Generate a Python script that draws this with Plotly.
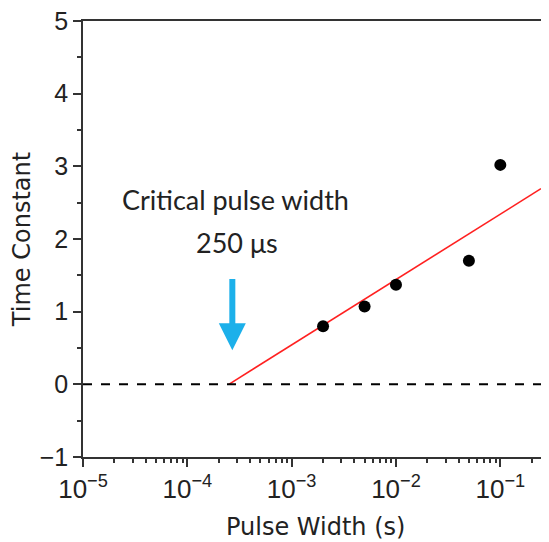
import numpy as np
import plotly.graph_objects as go

# Data
pulse_width = [2e-3, 5e-3, 1e-2, 5e-2, 1e-1]
time_constant = [0.80, 1.07, 1.37, 1.70, 3.02]

# Fit line: y = slope * (log10(x) - log10(x0))
fit_x0 = 2.5e-4
fit_slope = 0.90
fit_x_end = 10 ** -0.61

x_tickvals = [1e-5, 1e-4, 1e-3, 1e-2, 1e-1]
x_ticktext = ["10<sup>−5</sup>", "10<sup>−4</sup>", "10<sup>−3</sup>", "10<sup>−2</sup>", "10<sup>−1</sup>"]

x_title = "Pulse Width (s)"
y_title = "Time Constant"
label_line1 = "Critical pulse width"
label_line2 = "250 μs"
arrow_x = 2.7e-4
arrow_tail_y = 1.47
arrow_tip_y = 0.47

fit_x = np.array([fit_x0, fit_x_end])
fit_y = fit_slope * (np.log10(fit_x) - np.log10(fit_x0))

fig = go.Figure()
fig.add_hline(y=0, line=dict(color="black", width=2, dash="dash"))
fig.add_trace(go.Scatter(x=fit_x, y=fit_y, mode="lines",
                         line=dict(color="#ff2020", width=1.6), showlegend=False))
fig.add_trace(go.Scatter(x=pulse_width, y=time_constant, mode="markers",
                         marker=dict(color="black", size=12), showlegend=False))

fig.add_annotation(x=np.log10(arrow_x), y=arrow_tip_y, ax=np.log10(arrow_x), ay=arrow_tail_y,
                   xref="x", yref="y", axref="x", ayref="y", text="",
                   showarrow=True, arrowhead=2, arrowwidth=6, arrowsize=0.9,
                   arrowcolor="#1cb0ea")
fig.add_annotation(x=-3.54, y=2.55, xref="x", yref="y", text=label_line1, showarrow=False,
                   font=dict(family="Lato, Open Sans, sans-serif", size=27, color="#222"))
fig.add_annotation(x=-3.52, y=1.95, xref="x", yref="y", text=label_line2, showarrow=False,
                   font=dict(family="Lato, Open Sans, sans-serif", size=27, color="#222"))
fig.add_annotation(x=0.507, y=0, xref="paper", yref="paper", text=x_title, showarrow=False,
                   yanchor="middle", yshift=-70,
                   font=dict(family="DejaVu Sans, sans-serif", size=24, color="#222"))

fig.update_layout(
    width=533, height=534,
    margin=dict(l=75, r=0, t=13, b=85, autoexpand=False),
    plot_bgcolor="white", paper_bgcolor="white",
    font=dict(family="Liberation Sans, Arial, sans-serif", size=25, color="#222"),
)
fig.update_xaxes(
    type="log", range=[-5, -0.61], automargin=False,
    tickvals=x_tickvals, ticktext=x_ticktext,
    tickfont=dict(size=26), ticklabeloverflow="allow",
    ticks="outside", ticklen=8, tickwidth=1.5, tickcolor="#333",
    minor=dict(ticks="outside", ticklen=4, tickwidth=1.5, tickcolor="#333", dtick="D1"),
    showline=True, linecolor="#333", linewidth=1.5, mirror=True,
    showgrid=False, zeroline=False,
)
fig.update_yaxes(
    range=[-1, 5], dtick=1, automargin=False,
    tickfont=dict(size=25), ticklabeloverflow="allow",
    ticks="outside", ticklen=8, tickwidth=1.5, tickcolor="#333",
    minor=dict(ticks="outside", ticklen=4, tickwidth=1.5, tickcolor="#333", dtick=0.5),
    showline=True, linecolor="#333", linewidth=1.5, mirror=True,
    showgrid=False, zeroline=False,
    title=dict(text=y_title, standoff=10,
               font=dict(family="DejaVu Sans, sans-serif", size=24)),
)

fig.write_html("out.html")
